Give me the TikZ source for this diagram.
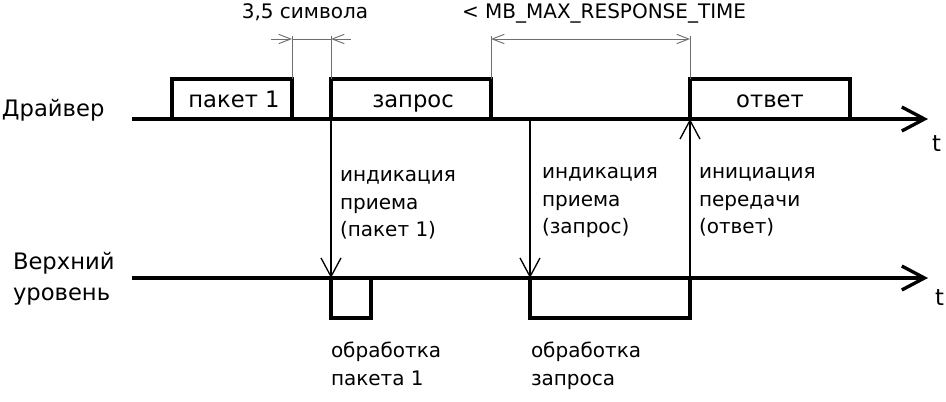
\documentclass[tikz,border=0pt]{standalone}
\usepackage{fontspec}
\setmainfont{DejaVu Sans}
\usetikzlibrary{arrows.meta}
\definecolor{dimgray}{RGB}{110,110,110}
\begin{document}
\begin{tikzpicture}[x=0.75pt,y=-0.75pt,
  every node/.style={inner sep=0pt, outer sep=0pt, font=\fontsize{15}{18}\selectfont},
  big/.style={font=\fontsize{17}{20}\selectfont},
  txt/.style={anchor=base west},
  ctxt/.style={anchor=base},
  thickline/.style={line width=2.5pt, line join=miter},
  axis/.style={line width=2.5pt, -{Straight Barb[length=17pt,width=18pt]}},
  sig/.style={line width=1pt, -{Straight Barb[length=14pt,width=15pt]}},
  ext/.style={line width=0.7pt, draw=dimgray},
  dimarrow/.style={line width=0.7pt, draw=dimgray}]
\useasboundingbox (0,0) rectangle (946,402);

% axes
\coordinate (d0) at (132,119);
\coordinate (dE) at (928,119);
\coordinate (u0) at (132,278);
\coordinate (uE) at (928,278);
\draw[axis] (d0) -- (dE);
\draw[axis] (u0) -- (uE);
\node[txt,big] (t1) at (932,152) {t};
\node[txt,big] (t2) at (935,306) {t};

% labels left
\node[txt,big] (drv) at (2,117) {Драйвер};
\node[txt,big] (up1) at (13,270) {Верхний};
\node[txt,big] (up2) at (13,301) {уровень};

% driver boxes
\draw[thickline] (172,119) |- (292,79) -- (292,119);
\node[ctxt,big] (pak) at (234,108) {пакет 1};
\draw[thickline] (331,119) |- (491,79) -- (491,119);
\node[ctxt,big] (zap) at (413,108) {запрос};
\draw[thickline] (690,119) |- (850,79) -- (850,119);
\node[ctxt,big] (otv) at (770,108) {ответ};

% processing boxes
\draw[thickline] (331,278) |- (371,318) -- (371,278);
\draw[thickline] (530,278) |- (690,318) -- (690,278);

% signal arrows
\coordinate (s1a) at (331,119); \coordinate (s1b) at (331,278);
\coordinate (s2a) at (530,119); \coordinate (s2b) at (530,278);
\coordinate (s3a) at (690,278); \coordinate (s3b) at (690,119);
\draw[sig] (s1a) -- (s1b);
\draw[sig] (s2a) -- (s2b);
\draw[sig] (s3a) -- (s3b);

% extension lines
\foreach \x/\n in {292/a,331/b,491/c,690/d}{
  \coordinate (e\n1) at (\x,36);
  \coordinate (e\n2) at (\x,79);
  \draw[ext] (e\n1) -- (e\n2);
}
% dimension 3,5 symbols
\coordinate (da0) at (271,39); \coordinate (da1) at (292,39);
\coordinate (da2) at (331,39); \coordinate (da3) at (351,39);
\draw[dimarrow, -{Straight Barb[length=9pt,width=7pt]}] (da0) -- (da1);
\draw[dimarrow] (da1) -- (da2);
\draw[dimarrow, -{Straight Barb[length=9pt,width=7pt]}] (da3) -- (da2);
\node[ctxt] (sym) at (305,19) {3,5 символа};
% dimension max response
\coordinate (db0) at (491,39); \coordinate (db1) at (690,39);
\draw[dimarrow, {Straight Barb[length=9pt,width=7pt]}-{Straight Barb[length=9pt,width=7pt]}] (db0) -- (db1);
\node[txt] (mb) at (462,19) {< MB\_MAX\_RESPONSE\_TIME};

% signal texts
\node[txt] (i1a) at (340,182) {индикация};
\node[txt] (i1b) at (340,210) {приема};
\node[txt] (i1c) at (340,237) {(пакет 1)};
\node[txt] (i2a) at (542,179) {индикация};
\node[txt] (i2b) at (542,207) {приема};
\node[txt] (i2c) at (542,234) {(запрос)};
\node[txt] (i3a) at (699,179) {инициация};
\node[txt] (i3b) at (699,207) {передачи};
\node[txt] (i3c) at (699,234) {(ответ)};

% processing texts
\node[txt] (p1a) at (331,358) {обработка};
\node[txt] (p1b) at (331,386) {пакета 1};
\node[txt] (p2a) at (531,358) {обработка};
\node[txt] (p2b) at (531,386) {запроса};
\end{tikzpicture}
\end{document}
